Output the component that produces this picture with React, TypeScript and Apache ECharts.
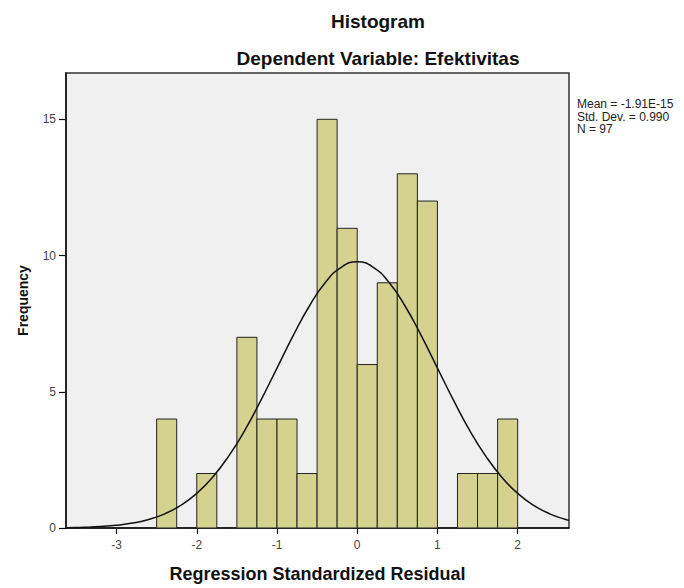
import React, { useEffect, useRef } from "react";
import * as echarts from "echarts";

// Histogram bins (left edge, right edge) and frequencies
const binLeft = [-2.5, -2.25, -2.0, -1.75, -1.5, -1.25, -1.0, -0.75, -0.5, -0.25, 0.0, 0.25, 0.5, 0.75, 1.0, 1.25, 1.5, 1.75];
const binRight = [-2.25, -2.0, -1.75, -1.5, -1.25, -1.0, -0.75, -0.5, -0.25, 0.0, 0.25, 0.5, 0.75, 1.0, 1.25, 1.5, 1.75, 2.0];
const frequencies = [4, 0, 2, 0, 7, 4, 4, 2, 15, 11, 6, 9, 13, 12, 0, 2, 2, 4];

// Normal curve
const curveX = [-3.63, -3.6, -3.4, -3.2, -3.0, -2.8, -2.6, -2.4, -2.2, -2.0, -1.8, -1.6, -1.4, -1.2, -1.0, -0.8, -0.6, -0.4, -0.2, 0.0, 0.2, 0.4, 0.6, 0.8, 1.0, 1.2, 1.4, 1.6, 1.8, 2.0, 2.2, 2.4, 2.6, 2.64];
const curveY = [0.012, 0.013, 0.027, 0.053, 0.1, 0.18, 0.31, 0.52, 0.83, 1.27, 1.87, 2.65, 3.59, 4.69, 5.87, 7.05, 8.13, 9.0, 9.57, 9.77, 9.57, 9.0, 8.13, 7.05, 5.87, 4.69, 3.59, 2.65, 1.87, 1.27, 0.83, 0.52, 0.31, 0.28];

const xTicks = [-3, -2, -1, 0, 1, 2];
const yTicks = [0, 5, 10, 15];

const titleText = "Histogram";
const subtitleText = "Dependent Variable: Efektivitas";
const statsLines = ["Mean = -1.91E-15", "Std. Dev. = 0.990", "N = 97"];
const xName = "Regression Standardized Residual";
const yName = "Frequency";

export default function App() {
  const ref = useRef<HTMLDivElement>(null);
  useEffect(() => {
    if (!ref.current) return;
    const chart = echarts.init(ref.current, null, { renderer: "svg" });
    const barData = binLeft.map((l, i) => [l, binRight[i], frequencies[i]]);
    const lineData = curveX.map((x, i) => [x, curveY[i]]);
    const font = "Liberation Sans, Arial, sans-serif";
    const statsTexts = statsLines.map((t, i) => ({
      type: "text",
      x: 577,
      y: 104 + i * 12.5,
      style: { text: t, textAlign: "left", textVerticalAlign: "middle", font: `12px ${font}`, fill: "#222" },
    }));
    chart.setOption({
      animation: false,
      backgroundColor: "#ffffff",
      textStyle: { fontFamily: font },
      grid: {
        left: 66,
        right: 115,
        top: 73,
        bottom: 56,
        show: true,
        backgroundColor: "#f0f0f0",
        borderColor: "#333333",
        borderWidth: 1.5,
      },
      xAxis: {
        type: "value",
        min: -3.63,
        max: 2.64,
        name: xName,
        nameLocation: "middle",
        nameGap: 37,
        nameTextStyle: { fontSize: 18, fontWeight: "bold", color: "#111", fontFamily: font },
        axisLine: { show: true, onZero: false, lineStyle: { color: "#111", width: 1.5 } },
        axisTick: { show: true, length: 6, customValues: xTicks, lineStyle: { color: "#111", width: 1.2 } },
        axisLabel: { customValues: xTicks, fontSize: 12, color: "#444", margin: 11, fontFamily: font },
        splitLine: { show: false },
      },
      yAxis: {
        type: "value",
        min: 0,
        max: 16.7,
        name: yName,
        nameLocation: "middle",
        nameGap: 36,
        nameTextStyle: { fontSize: 14, fontWeight: "bold", color: "#111", fontFamily: font },
        axisLine: { show: true, onZero: false, lineStyle: { color: "#111", width: 1.5 } },
        axisTick: { show: true, length: 7, customValues: yTicks, lineStyle: { color: "#111", width: 1.2 } },
        axisLabel: { customValues: yTicks, fontSize: 12, color: "#444", margin: 10, fontFamily: font },
        splitLine: { show: false },
      },
      graphic: [
        {
          type: "text",
          x: 378,
          y: 21,
          style: { text: titleText, textAlign: "center", textVerticalAlign: "middle", font: `bold 19px ${font}`, fill: "#111" },
        },
        {
          type: "text",
          x: 378,
          y: 58,
          style: { text: subtitleText, textAlign: "center", textVerticalAlign: "middle", font: `bold 19px ${font}`, fill: "#111" },
        },
        ...statsTexts,
      ],
      series: [
        {
          type: "custom",
          data: barData,
          encode: { x: [0, 1], y: 2 },
          renderItem: (params: any, api: any) => {
            const x0 = api.value(0);
            const x1 = api.value(1);
            const v = api.value(2);
            if (!v) return null;
            const p0 = api.coord([x0, v]);
            const p1 = api.coord([x1, 0]);
            return {
              type: "rect",
              shape: { x: p0[0], y: p0[1], width: p1[0] - p0[0], height: p1[1] - p0[1] },
              style: { fill: "#d4d28e", stroke: "#222", lineWidth: 1 },
            };
          },
          z: 2,
        },
        {
          type: "line",
          data: lineData,
          smooth: true,
          showSymbol: false,
          lineStyle: { color: "#111", width: 1.5 },
          z: 3,
        },
      ],
    });
    return () => chart.dispose();
  }, []);
  return <div ref={ref} style={{ position: "fixed", left: 0, top: 0, width: 684, height: 588 }} />;
}
